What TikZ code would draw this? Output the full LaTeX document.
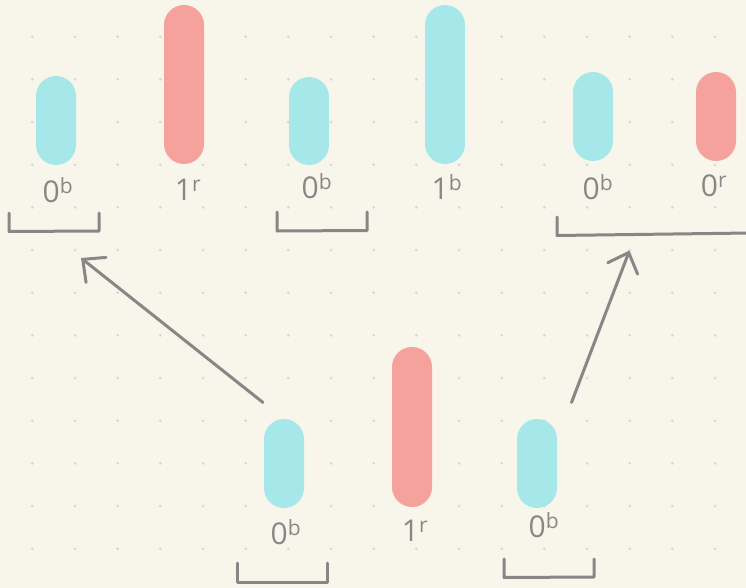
\documentclass[tikz,border=0pt]{standalone}
\usepackage{fontspec}
\setmainfont{Open Sans}
\usetikzlibrary{arrows.meta}
\definecolor{paper}{HTML}{F8F6EA}
\definecolor{gridDot}{HTML}{D6D3DA}
\definecolor{cyanPill}{HTML}{A6E8EA}
\definecolor{redPill}{HTML}{F4A29B}
\definecolor{ink}{HTML}{878787}
\tikzset{
  pill/.style={rectangle, rounded corners=20pt, minimum width=40pt, inner sep=0pt, draw=none},
  bpill/.style={pill, fill=cyanPill},
  rpill/.style={pill, fill=redPill},
  digit/.style={text=ink, font=\fontsize{30}{30}\selectfont, inner sep=0pt},
  pen/.style={draw=ink, line width=3pt, line cap=round, line join=round},
  pointer/.style={pen, -{Straight Barb[length=17pt,width=32pt,line cap=round]}}
}
\begin{document}
\begin{tikzpicture}[x=1pt,y=-1pt]
  % page
  \fill[paper] (0,0) rectangle (746,588);
  \useasboundingbox (0,0) rectangle (746,588);
  % dotted grid
  \foreach \i in {0,...,16}
    \foreach \j in {0,...,12}
      \fill[gridDot] ({32.3+42.67*\i},{36.7+42.67*\j}) circle (1.4pt);

  % upper row of bars
  \node[bpill, minimum height=89pt]  (t1) at (56,120.5) {};
  \node[rpill, minimum height=159pt] (t2) at (184,84.5) {};
  \node[bpill, minimum height=88pt]  (t3) at (309,121) {};
  \node[bpill, minimum height=159pt] (t4) at (445,84.5) {};
  \node[bpill, minimum height=89pt]  (t5) at (593,116.5) {};
  \node[rpill, minimum height=89pt]  (t6) at (716,116.5) {};

  % lower row of bars
  \node[bpill, minimum height=89pt]  (b1) at (284,463.5) {};
  \node[rpill, minimum height=160pt] (b2) at (412,427) {};
  \node[bpill, minimum height=89pt]  (b3) at (537,463.5) {};

  % labels
  \node[digit] (lt1) at (58,190)  {0\textsuperscript{b}};
  \node[digit] (lt2) at (188,190) {1\textsuperscript{r}};
  \node[digit] (lt3) at (317,186) {0\textsuperscript{b}};
  \node[digit] (lt4) at (447,187) {1\textsuperscript{b}};
  \node[digit] (lt5) at (598,187) {0\textsuperscript{b}};
  \node[digit] (lt6) at (714,186) {0\textsuperscript{r}};
  \node[digit] (lb1) at (286,532) {0\textsuperscript{b}};
  \node[digit] (lb2) at (415,531) {1\textsuperscript{r}};
  \node[digit] (lb3) at (544,525) {0\textsuperscript{b}};

  % brackets
  \draw[pen] (9,213) -- (9,231.5) -- (99,231) -- (99,213);
  \draw[pen] (277,212) -- (277,231) -- (367,230.5) -- (367,212);
  \draw[pen] (557,217) -- (557,235.5) -- (750,233);
  \draw[pen] (237,563) -- (237,582) -- (327,582) -- (327,563);
  \draw[pen] (504,559) -- (504,577.5) -- (594,577) -- (594,559);

  % arrows
  \coordinate (a1s) at (263,402.5);
  \coordinate (a1e) at (81,258);
  \coordinate (a2s) at (571.5,402.5);
  \coordinate (a2e) at (629.5,250.5);
  \draw[pointer] (a1s) -- (a1e);
  \draw[pointer] (a2s) -- (a2e);
\end{tikzpicture}
\end{document}
